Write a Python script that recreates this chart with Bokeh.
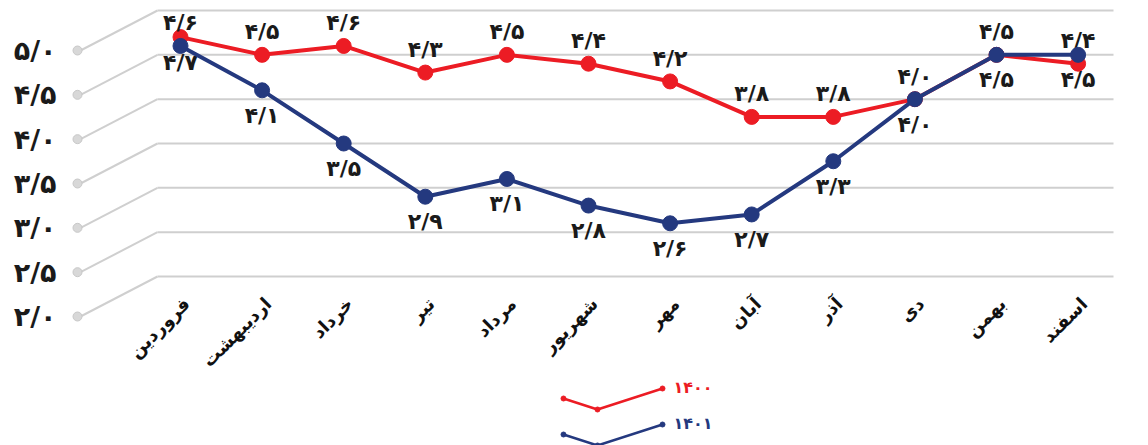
import math
from bokeh.plotting import figure
from bokeh.models import Range1d, LinearAxis, FixedTicker, ColumnDataSource
from bokeh.core.properties import value
from bokeh.embed import file_html
from bokeh.resources import INLINE

# ---------------- data ----------------
MONTHS = ["فروردین", "اردیبهشت", "خرداد", "تیر", "مرداد", "شهریور",
          "مهر", "آبان", "آذر", "دی", "بهمن", "اسفند"]
S1400 = [4.7, 4.5, 4.6, 4.3, 4.5, 4.4, 4.2, 3.8, 3.8, 4.0, 4.5, 4.4]
S1401 = [4.6, 4.1, 3.5, 2.9, 3.1, 2.8, 2.6, 2.7, 3.3, 4.0, 4.5, 4.5]
YTICKS = [2.0, 2.5, 3.0, 3.5, 4.0, 4.5, 5.0]
YTICK_LABELS = ["۲/۰", "۲/۵", "۳/۰", "۳/۵", "۴/۰", "۴/۵", "۵/۰"]
SERIES_NAMES = ["۱۴۰۰", "۱۴۰۱"]

# label placement (style): -1 above, +1 below
POS1400 = [1, -1, -1, -1, -1, -1, -1, -1, -1, -1, 1, -1]
POS1401 = [-1, 1, 1, 1, 1, 1, 1, 1, 1, 1, -1, 1]

RED = "#ec1c24"
BLUE = "#24397f"
GRID = "#cfcfcf"
FONT = value("DejaVu Sans")

FA = str.maketrans("0123456789", "۰۱۲۳۴۵۶۷۸۹")
def fa(v):
    return f"{v:.1f}".replace(".", "/").translate(FA)

# ---------------- geometry (pixel helpers for decoration) ----------------
X0, DX = 180.0, 81.6
Y0, DY = 10.0, 88.67
def xd(px):
    return (px - X0) / DX
def yd(py):
    return 5.0 - (py - Y0) / DY
SHIFT = 40.0 / DY

W, H = 1148, 445
LEFT = 70
p = figure(width=W, height=H,
           x_range=Range1d(xd(LEFT), xd(W)),
           y_range=Range1d(yd(H), yd(0)),
           x_axis_location=None, y_axis_location=None,
           toolbar_location=None, output_backend="svg",
           min_border_left=LEFT, min_border_right=0,
           min_border_top=0, min_border_bottom=0)
p.outline_line_color = None
p.xgrid.visible = False
p.ygrid.visible = False
p.background_fill_color = "white"

p.extra_y_ranges = {"front": Range1d(yd(H) + SHIFT, yd(0) + SHIFT)}
yax = LinearAxis(y_range_name="front", ticker=FixedTicker(ticks=YTICKS))
yax.major_label_overrides = {t: l for t, l in zip(YTICKS, YTICK_LABELS)}
yax.axis_line_color = None
yax.major_tick_line_color = None
yax.minor_tick_line_color = None
yax.major_tick_out = 0
yax.major_tick_in = 0
yax.major_label_standoff = 14
yax.major_label_text_font = "DejaVu Sans"
yax.major_label_text_font_style = "bold"
yax.major_label_text_font_size = "27px"
yax.major_label_text_color = "#1a1a1a"
p.add_layout(yax, "left")

# perspective grid
gx0 = [xd(157)] * len(YTICKS)
gx1 = [xd(1113)] * len(YTICKS)
p.segment(x0=gx0, y0=YTICKS, x1=gx1, y1=YTICKS, line_color=GRID, line_width=2)
p.segment(x0=gx0, y0=YTICKS, x1=[xd(80)] * len(YTICKS),
          y1=[t - SHIFT for t in YTICKS], line_color=GRID, line_width=2)
p.scatter(x=[xd(77)] * len(YTICKS), y=[t - SHIFT for t in YTICKS],
          size=9, color="#d8d8d8", line_color="#c8c8c8")

# month labels
xs = list(range(len(MONTHS)))
p.text(x=xs, y=[yd(300)] * len(MONTHS), text=MONTHS, angle=math.pi / 4,
       x_offset=6, text_align="right", text_baseline="middle",
       text_font=FONT, text_font_style="bold", text_font_size="18px",
       text_color="#111111")

# series
for vals, col, pos in ((S1400, RED, POS1400), (S1401, BLUE, POS1401)):
    p.line(xs, vals, line_color=col, line_width=4)
    p.scatter(xs, vals, size=15, fill_color=col, line_color=col)
    src = ColumnDataSource(dict(x=xs, y=vals, t=[fa(v) for v in vals],
                                yo=[25 if s > 0 else -23 for s in pos]))
    p.text(x="x", y="y", text="t", y_offset="yo", source=src,
           text_align="center", text_baseline="middle",
           text_font=FONT, text_font_style="bold", text_font_size="22px",
           text_color="#1a1a1a")

# legend (custom zig-zag icon like the reference)
for name, col, ly in ((SERIES_NAMES[0], RED, 398), (SERIES_NAMES[1], BLUE, 434)):
    lx = [xd(563), xd(597), xd(662)]
    lyv = [yd(ly), yd(ly + 11), yd(ly - 10)]
    p.line(lx, lyv, line_color=col, line_width=2.5)
    p.scatter(lx, lyv, size=5, color=col)
    p.text(x=[xd(673)], y=[yd(ly - 11)], text=[name], text_align="left",
           text_baseline="middle", text_font=FONT, text_font_style="bold",
           text_font_size="16px", text_color=col)

open("out.html", "w").write(file_html(p, INLINE))
